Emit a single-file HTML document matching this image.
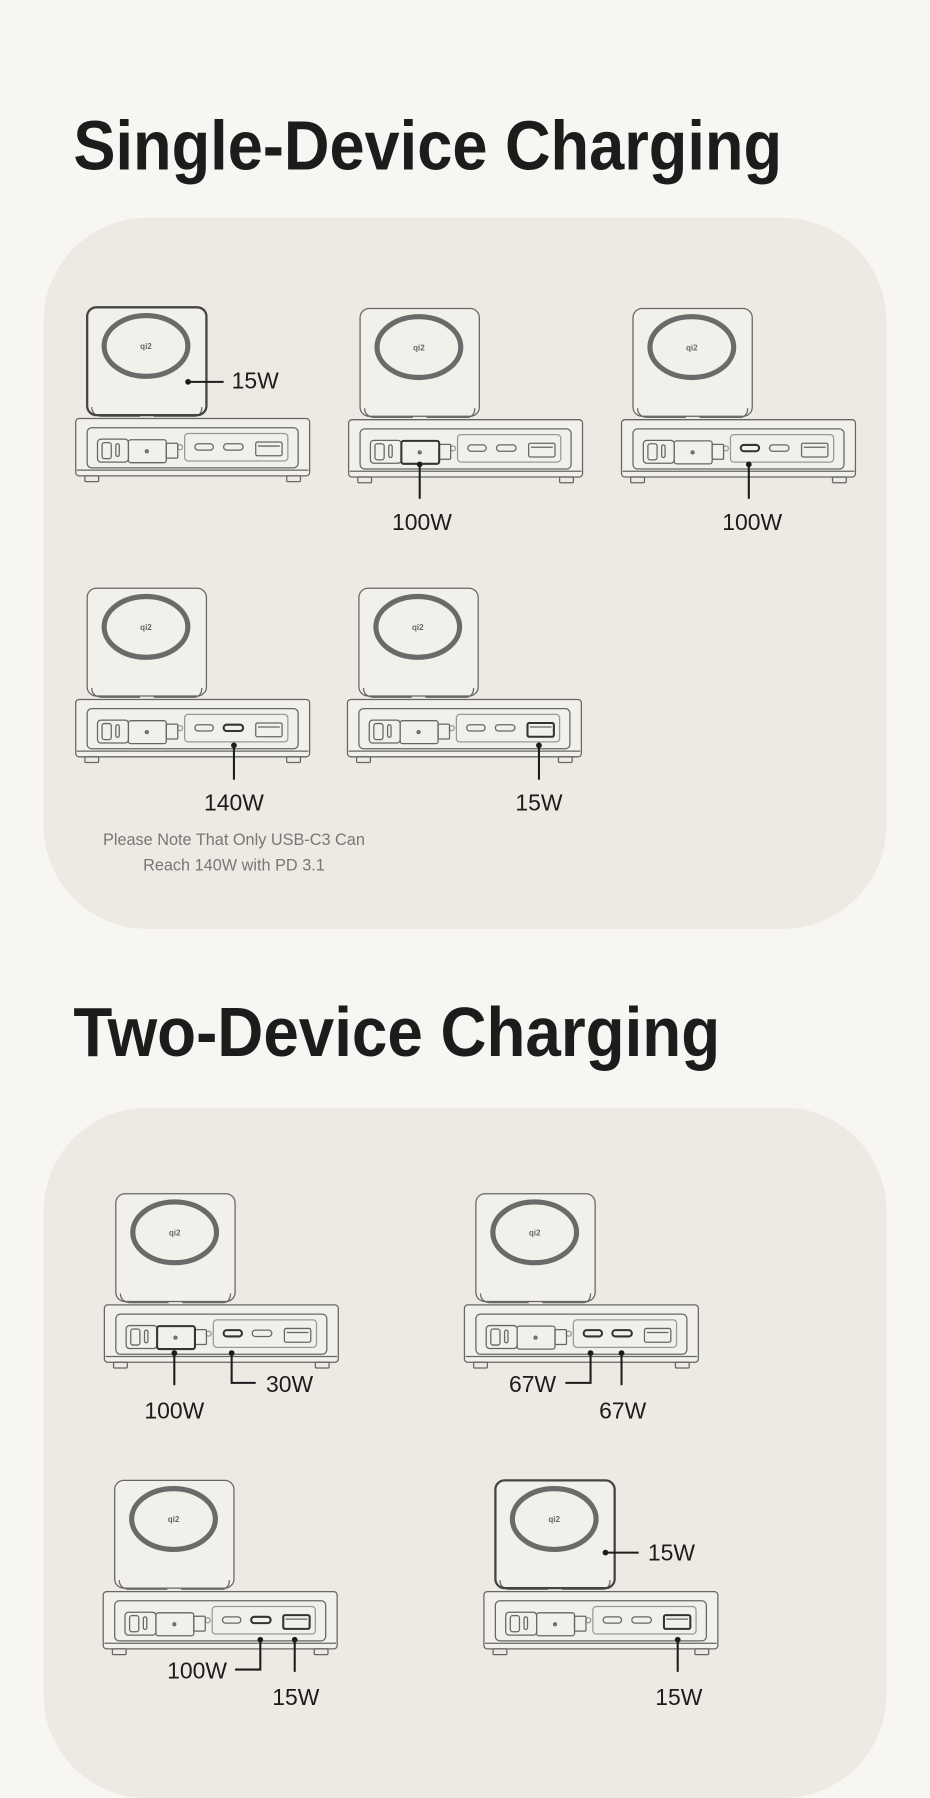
<!DOCTYPE html>
<html><head><meta charset="utf-8"><style>
html,body{margin:0;padding:0;background:#f7f6f2;width:930px;height:1798px;overflow:hidden;}
svg{display:block;}
text{font-family:"Liberation Sans",sans-serif;}
</style></head><body>
<svg width="930" height="1798" viewBox="0 0 811 1568" xmlns="http://www.w3.org/2000/svg">
<defs>
<g id="dev" fill="none" stroke="#666" stroke-width="1.1">
  <rect x="10" y="-97" width="104" height="94" rx="8" fill="#f2f0ea"/>
  <path d="M14 -10 Q14 -3 22 -2 L56 -2 M68 -2 L104 -2 Q110 -3 110 -10" />
  <ellipse cx="61.3" cy="-63.3" rx="36.5" ry="26.5" stroke="#6a6a6a" stroke-width="4.5"/>
  <text x="61.3" y="-60.5" font-size="7" fill="#666" stroke="none" text-anchor="middle" font-weight="bold">qi2</text>
  <rect x="0" y="0" width="204" height="50" rx="3" fill="#f2f0ea"/>
  <line x1="1" y1="45" x2="203" y2="45"/>
  <rect x="8" y="50" width="12" height="5" rx="1"/>
  <rect x="184" y="50" width="12" height="5" rx="1"/>
  <rect x="10" y="8" width="184" height="35" rx="4"/>
  <rect x="95" y="13" width="90" height="24" rx="3" stroke="#999"/>
  <rect x="104" y="22" width="16" height="5.5" rx="2.7"/>
  <rect x="129" y="22" width="17" height="5.5" rx="2.7"/>
  <rect x="157" y="20.5" width="23" height="12" rx="1.5"/>
  <line x1="159" y1="24" x2="178" y2="24"/>
  <circle cx="91" cy="25" r="2.2" stroke="#999"/>
  <rect x="19" y="18" width="27" height="20" rx="3"/>
  <rect x="23" y="21" width="8" height="14" rx="2"/>
  <rect x="35" y="22" width="3" height="11" rx="1.5"/>
  <rect x="46" y="18.5" width="33" height="20" rx="2" fill="#f2f0ea"/>
  <circle cx="62" cy="28.5" r="1.3" fill="#888"/>
  <rect x="79" y="21.5" width="10" height="13" rx="1"/>
</g>
</defs>

<text x="64" y="148" font-size="61" font-weight="bold" fill="#1c1c1c" textLength="618" lengthAdjust="spacingAndGlyphs">Single-Device Charging</text>
<rect x="38" y="190" width="735" height="620" rx="90" fill="#edeae3"/>

<text x="64" y="921" font-size="61" font-weight="bold" fill="#1c1c1c" textLength="564" lengthAdjust="spacingAndGlyphs">Two-Device Charging</text>
<rect x="38" y="966" width="735" height="602" rx="90" fill="#edeae3"/>

<use href="#dev" x="66" y="365"/>
<rect x="76" y="268" width="104" height="94" rx="8" fill="none" stroke="#444" stroke-width="2"/>
<use href="#dev" x="304" y="366"/>
<use href="#dev" x="542" y="366"/>
<use href="#dev" x="66" y="610"/>
<use href="#dev" x="303" y="610"/>
<use href="#dev" x="91" y="1138"/>
<use href="#dev" x="405" y="1138"/>
<use href="#dev" x="90" y="1388"/>
<use href="#dev" x="422" y="1388"/>
<rect x="432" y="1291" width="104" height="94" rx="8" fill="none" stroke="#444" stroke-width="2"/>

<g fill="none" stroke="#333" stroke-width="1.8">
  <rect x="350" y="384.5" width="33" height="20" rx="2"/>
  <rect x="646" y="388" width="16" height="5.5" rx="2.7"/>
  <rect x="195" y="632" width="17" height="5.5" rx="2.7"/>
  <rect x="460" y="630.5" width="23" height="12" rx="1.5"/>
  <rect x="137" y="1156.5" width="33" height="20" rx="2"/>
  <rect x="195" y="1160" width="16" height="5.5" rx="2.7"/>
  <rect x="509" y="1160" width="16" height="5.5" rx="2.7"/>
  <rect x="534" y="1160" width="17" height="5.5" rx="2.7"/>
  <rect x="219" y="1410" width="17" height="5.5" rx="2.7"/>
  <rect x="247" y="1408.5" width="23" height="12" rx="1.5"/>
  <rect x="579" y="1408.5" width="23" height="12" rx="1.5"/>
</g>

<g stroke="#1c1c1c" stroke-width="1.8" fill="none">
  <path d="M164 333 H195"/>
  <path d="M366 405 V435"/>
  <path d="M653 405 V435"/>
  <path d="M204 650 V680"/>
  <path d="M470 650 V680"/>
  <path d="M152 1180 V1208"/>
  <path d="M202 1180 V1206 H223"/>
  <path d="M515 1180 V1206 H493"/>
  <path d="M542 1180 V1208"/>
  <path d="M227 1430 V1456 H205"/>
  <path d="M257 1430 V1458"/>
  <path d="M528 1354 H557"/>
  <path d="M591 1430 V1458"/>
</g>
<g fill="#1c1c1c">
  <circle cx="164" cy="333" r="2.5"/><circle cx="366" cy="405" r="2.5"/><circle cx="653" cy="405" r="2.5"/>
  <circle cx="204" cy="650" r="2.5"/><circle cx="470" cy="650" r="2.5"/>
  <circle cx="152" cy="1180" r="2.5"/><circle cx="202" cy="1180" r="2.5"/>
  <circle cx="515" cy="1180" r="2.5"/><circle cx="542" cy="1180" r="2.5"/>
  <circle cx="227" cy="1430" r="2.5"/><circle cx="257" cy="1430" r="2.5"/>
  <circle cx="528" cy="1354" r="2.5"/><circle cx="591" cy="1430" r="2.5"/>
</g>
<g font-size="20" fill="#1c1c1c">
  <text x="202" y="339">15W</text>
  <text x="368" y="462" text-anchor="middle">100W</text>
  <text x="656" y="462" text-anchor="middle">100W</text>
  <text x="204" y="707" text-anchor="middle">140W</text>
  <text x="470" y="707" text-anchor="middle">15W</text>
  <text x="152" y="1237" text-anchor="middle">100W</text>
  <text x="232" y="1214">30W</text>
  <text x="485" y="1214" text-anchor="end">67W</text>
  <text x="543" y="1237" text-anchor="middle">67W</text>
  <text x="198" y="1464" text-anchor="end">100W</text>
  <text x="258" y="1487" text-anchor="middle">15W</text>
  <text x="565" y="1361">15W</text>
  <text x="592" y="1487" text-anchor="middle">15W</text>
</g>
<g font-size="14.2" fill="#777" text-anchor="middle">
  <text x="204" y="737">Please Note That Only USB-C3 Can</text>
  <text x="204" y="759">Reach 140W with PD 3.1</text>
</g>
</svg>
</body></html>
